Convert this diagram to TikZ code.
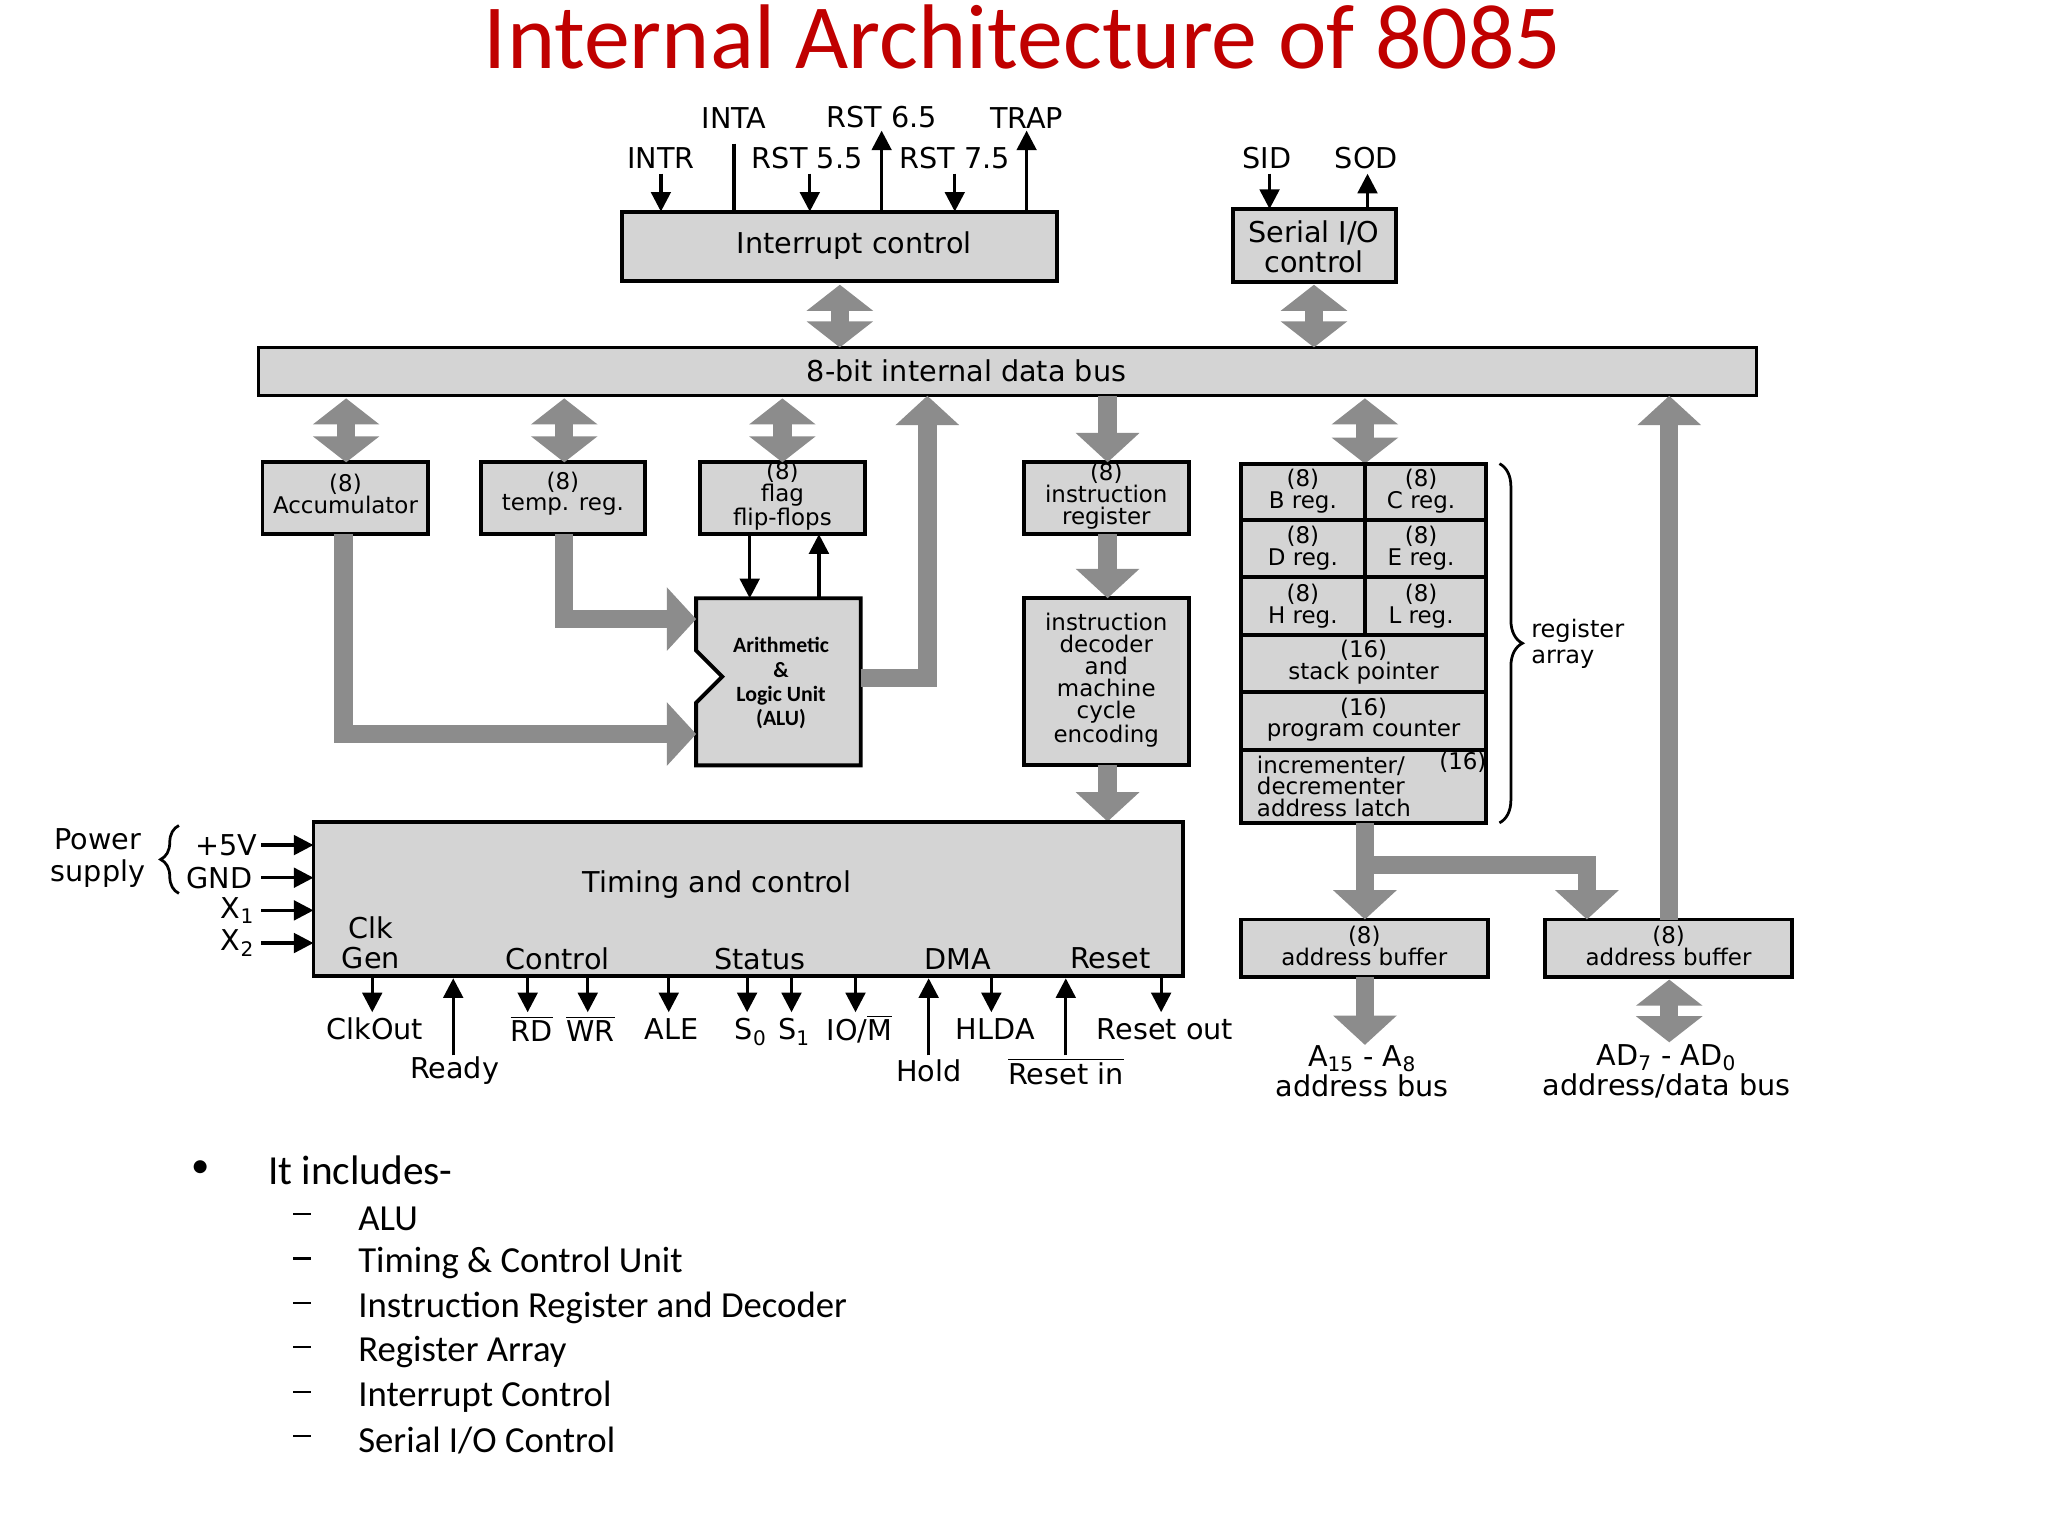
\documentclass[tikz,border=0pt]{standalone}
\usepackage{fontspec}
\setmainfont{DejaVu Sans}
\newfontfamily\calib{Carlito}
\usetikzlibrary{arrows.meta,decorations.pathreplacing}
\definecolor{fatg}{HTML}{8C8C8C}
\definecolor{boxg}{HTML}{D4D4D4}
\definecolor{titler}{HTML}{C00000}
\newcommand{\ol}[1]{$\overline{\mbox{#1}}$}
\newcommand{\sbs}[1]{\textsubscript{#1}}
\begin{document}
\begin{tikzpicture}[x=0.02cm,y=-0.02cm,
  box/.style={draw=black,fill=boxg,line width=1.7pt,inner sep=0pt},
  lbl/.style={font=\fontsize{12.5}{14}\selectfont,inner sep=0pt},
  bl/.style={font=\fontsize{10}{9.5}\selectfont,align=center,inner sep=0pt},
  fat/.style={draw=fatg,line width=0.28cm,line join=miter,-{Triangle[width=0.95cm,length=0.45cm]}},
  dfat/.style={draw=fatg,line width=0.28cm,{Triangle[width=1cm,length=0.4cm]}-{Triangle[width=1cm,length=0.4cm]}},
  thin/.style={draw=black,line width=1.4pt,-{Triangle[width=0.3cm,length=0.3cm]}},
  item/.style={font=\calib\fontsize{16}{18}\selectfont,anchor=west,inner sep=0pt}]
\useasboundingbox (0,0) rectangle (1568,1176);
\fill[white] (0,0) rectangle (1568,1176);
\node[font=\calib\fontsize{40}{44}\selectfont,text=titler] (title) at (783,28) {Internal Architecture of 8085};
% interrupt
\node[box,minimum width=333*0.02cm,minimum height=53*0.02cm] (ic) at (642.5,188.5) {};
\node[lbl] (ict) at (654,188) {Interrupt control};
\coordinate (intrS) at (506,133); \coordinate (intrE) at (506,162);
\coordinate (intaS) at (562,110); \coordinate (intaE) at (562,162);
\coordinate (r55S) at (620,133); \coordinate (r55E) at (620,162);
\coordinate (r65S) at (675,162); \coordinate (r65E) at (675,100);
\coordinate (r75S) at (731,133); \coordinate (r75E) at (731,162);
\coordinate (trS) at (786,162); \coordinate (trE) at (786,100);
\draw[thin] (intrS)--(intrE); \draw[line width=1.4pt] (intaS)--(intaE);
\draw[thin] (r55S)--(r55E); \draw[thin] (r65S)--(r65E);
\draw[thin] (r75S)--(r75E); \draw[thin] (trS)--(trE);
\node[lbl] (l1) at (506,121) {INTR};
\node[lbl] (l2) at (562,90) {INTA};
\node[lbl] (l3) at (618,121) {RST 5.5};
\node[lbl] (l4) at (675,90) {RST 6.5};
\node[lbl] (l5) at (731,121) {RST 7.5};
\node[lbl] (l6) at (786,90) {TRAP};
% serial
\node[box,minimum width=125*0.02cm,minimum height=56*0.02cm] (sio) at (1006.5,188) {};
\node[lbl,align=center,font=\fontsize{12.5}{13}\selectfont] (siot) at (1006,189) {Serial I/O\\control};
\coordinate (sidS) at (972,133); \coordinate (sidE) at (972,160);
\coordinate (sodS) at (1047,160); \coordinate (sodE) at (1047,133);
\draw[thin] (sidS)--(sidE); \draw[thin] (sodS)--(sodE);
\node[lbl] (l7) at (970,121) {SID};
\node[lbl] (l8) at (1046,121) {SOD};
% bus
\node[box,line width=1.2pt,minimum width=1147*0.02cm,minimum height=37*0.02cm] (bus) at (771.5,284.5) {};
\node[lbl] (bust) at (740,284) {8-bit internal data bus};
\draw[dfat] (643,218)--(643,266);
\draw[dfat] (1006,218)--(1006,266);
% boxes row
\node[box,minimum width=127*0.02cm,minimum height=55*0.02cm] (acc) at (264.5,381.5) {};
\node[bl] at (264.5,378) {(8)\\Accumulator};
\node[box,minimum width=126*0.02cm,minimum height=55*0.02cm] (tmp) at (431,381.5) {};
\node[bl] at (431,378) {(8)\\temp. reg.};
\node[box,minimum width=126*0.02cm,minimum height=55*0.02cm] (flg) at (599,381.5) {};
\node[bl] at (599,380) {(8)\\flag\\flip-flops};
\node[box,minimum width=126*0.02cm,minimum height=55*0.02cm] (ir) at (847,381.5) {};
\node[bl] at (847,380) {(8)\\instruction\\register};
\draw[dfat] (265,305)--(265,354);
\draw[dfat] (432,305)--(432,354);
\draw[dfat] (599,305)--(599,354);
\draw[dfat] (1045,305)--(1045,355);
\draw[fat] (848,303)--(848,354);
% ALU
\draw[box] (533,458)--(659,458)--(659,586)--(533,586)--(533,538)--(553,518)--(533,498)--cycle;
\node[bl,font=\calib\bfseries\fontsize{9.5}{10.5}\selectfont] (alu) at (598,523) {Arithmetic\\\&\\Logic Unit\\(ALU)};
\coordinate (aluR) at (659,519);
\draw[fat] (aluR)--(710,519)--(710,303);
\draw[thin] (574,409)--(574,458);
\draw[thin] (627,458)--(627,409);
\draw[fat] (263,409)--(263,562)--(533,562);
\draw[fat] (432,409)--(432,474)--(533,474);
% decoder
\node[box,minimum width=126*0.02cm,minimum height=128*0.02cm] (dec) at (847,522) {};
\node[bl] at (847,521) {instruction\\decoder\\and\\machine\\cycle\\encoding};
\draw[fat] (848,409)--(848,458);
\draw[fat] (848,586)--(848,629);
% timing
\node[box,minimum width=666*0.02cm,minimum height=118*0.02cm] (tc) at (573,688) {};
\node[lbl] at (549,677) {Timing and control};
\node[lbl,align=center,font=\fontsize{12.5}{13}\selectfont] at (284,722) {Clk\\Gen};
\node[lbl] at (427,734) {Control};
\node[lbl] at (582,734) {Status};
\node[lbl] at (733,734) {DMA};
\node[lbl] at (850,734) {Reset};
\draw[thin] (285,749)--(285,775); \node[lbl] at (287,788) {ClkOut};
\draw[thin] (347,808)--(347,749); \node[lbl] at (348,820) {Ready};
\draw[thin] (404,749)--(404,775); \node[lbl] at (407,788) {\ol{RD}};
\draw[thin] (450,749)--(450,775); \node[lbl] at (452,788) {\ol{WR}};
\draw[thin] (512,749)--(512,775); \node[lbl] at (514,788) {ALE};
\draw[thin] (572,749)--(572,775); \node[lbl] at (575,790) {S\sbs{0}};
\draw[thin] (606,749)--(606,775); \node[lbl] at (608,790) {S\sbs{1}};
\draw[thin] (655,749)--(655,775); \node[lbl] at (658,788) {IO/\ol{M}};
\draw[thin] (711,808)--(711,749); \node[lbl] at (711,820) {Hold};
\draw[thin] (759,749)--(759,775); \node[lbl] at (762,788) {HLDA};
\draw[thin] (816,808)--(816,749); \node[lbl] at (816,820) {\ol{Reset in}};
\draw[thin] (889,749)--(889,775); \node[lbl] at (892,788) {Reset out};
% power
\node[lbl,align=center,font=\fontsize{12.5}{14}\selectfont] at (75,657) {Power\\supply};
\draw[line width=1.2pt,decorate,decoration={brace,amplitude=8pt}] (137,684)--(137,632);
\node[lbl] at (173,647) {+5V}; \draw[thin] (200,647)--(240,647);
\node[lbl] at (168,672) {GND}; \draw[thin] (200,672)--(240,672);
\node[lbl] at (182,697) {X\sbs{1}}; \draw[thin] (200,697)--(240,697);
\node[lbl] at (182,722) {X\sbs{2}}; \draw[thin] (200,722)--(240,722);
% register array
\begin{scope}[every node/.style={bl}]
\node[box,minimum width=95*0.02cm,minimum height=43*0.02cm] (b) at (997.5,376.5) {};
\node at (997.5,376) {(8)\\B reg.};
\node[box,minimum width=93*0.02cm,minimum height=43*0.02cm] (c) at (1091.5,376.5) {};
\node at (1088,376) {(8)\\C reg.};
\node[box,minimum width=95*0.02cm,minimum height=44*0.02cm] (d) at (997.5,420) {};
\node at (997.5,420) {(8)\\D reg.};
\node[box,minimum width=93*0.02cm,minimum height=44*0.02cm] (e) at (1091.5,420) {};
\node at (1088,420) {(8)\\E reg.};
\node[box,minimum width=95*0.02cm,minimum height=44*0.02cm] (h) at (997.5,464) {};
\node at (997.5,464) {(8)\\H reg.};
\node[box,minimum width=93*0.02cm,minimum height=44*0.02cm] (l) at (1091.5,464) {};
\node at (1088,464) {(8)\\L reg.};
\node[box,minimum width=188*0.02cm,minimum height=44*0.02cm] (sp) at (1044,508) {};
\node at (1044,507) {(16)\\stack pointer};
\node[box,minimum width=188*0.02cm,minimum height=44*0.02cm] (pc) at (1044,552) {};
\node at (1044,551) {(16)\\program counter};
\node[box,minimum width=188*0.02cm,minimum height=56*0.02cm] (inc) at (1044,602) {};
\node[align=left,anchor=west] at (962,602) {incrementer/\\decrementer\\address latch};
\node at (1120,584) {(16)};
\end{scope}
\draw[line width=1.2pt,decorate,decoration={brace,amplitude=10pt}] (1148,355)--(1148,630);
\node[bl,align=left,anchor=west,font=\fontsize{10.5}{11}\selectfont] at (1172,493) {register\\array};
% address buffers
\node[box,minimum width=189*0.02cm,minimum height=44*0.02cm] (ab1) at (1044.5,726) {};
\node[bl] at (1044.5,724) {(8)\\address buffer};
\node[box,minimum width=189*0.02cm,minimum height=44*0.02cm] (ab2) at (1277.5,726) {};
\node[bl] at (1277.5,724) {(8)\\address buffer};
\draw[fat] (1045,630)--(1045,704);
\draw[fat] (1045,662)--(1215,662)--(1215,704);
\draw[fat] (1278,704)--(1278,303);
\draw[fat] (1045,748)--(1045,800);
\draw[dfat] (1278,750)--(1278,798);
\node[lbl,align=center,font=\fontsize{12.5}{13}\selectfont] at (1043,820) {A\sbs{15} - A\sbs{8}\\address bus};
\node[lbl,align=center,font=\fontsize{12.5}{13}\selectfont] at (1276,820) {AD\sbs{7} - AD\sbs{0}\\address/data bus};
% bullets
\node[item] at (146,895) {•};
\node[item,font=\calib\fontsize{18}{20}\selectfont] at (205,896) {It includes-};
\foreach \y/\t in {933/{ALU},967/{Timing \& Control Unit},1001/{Instruction Register and Decoder},1035/{Register Array},1069/{Interrupt Control},1103/{Serial I/O Control}}{
  \node[item] at (224,\y) {\rule[0.25em]{0.5em}{0.06em}};
  \node[item] at (274,\y) {\t};
}
\end{tikzpicture}
\end{document}
